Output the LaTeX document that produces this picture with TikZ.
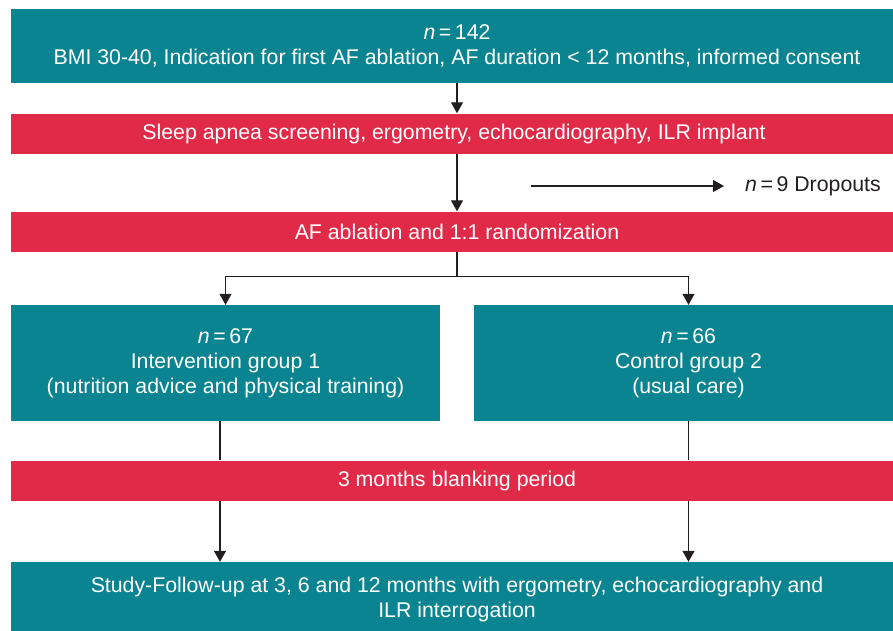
\documentclass[tikz,border=0pt]{standalone}
\usepackage{fontspec}
\setmainfont{Liberation Sans}
\usetikzlibrary{arrows.meta,positioning}
\definecolor{studyteal}{HTML}{0B8491}
\definecolor{stepred}{HTML}{E12A47}
\definecolor{ink}{HTML}{231F20}
\tikzset{
  box/.style={
    rectangle,
    draw=none,
    align=center,
    text=white,
    inner sep=0pt,
    minimum width=892pt
  },
  tealbox/.style={box, fill=studyteal, minimum height=74pt},
  redbox/.style={box, fill=stepred, minimum height=40pt},
  groupbox/.style={box, fill=studyteal, minimum width=429pt, minimum height=116pt},
  flow/.style={
    -{Triangle[length=11pt,width=12pt]},
    draw=ink,
    line width=1.2pt
  },
  link/.style={
    draw=ink,
    line width=1.2pt
  }
}
\newcommand{\nn}{\textit{n}\,=\,}

\begin{document}
\begin{tikzpicture}[
  x=1pt, y=-1pt,
  font=\fontsize{21.3}{25}\selectfont
]
\clip (0,0) rectangle (893,630);

% Screening and baseline steps.
\node[tealbox] (cohort) at (457,46) {
  \nn142\\
  BMI 30-40, Indication for first AF ablation, AF duration < 12 months, informed consent
};
\node[redbox] (screen) at (457,133.5) {
  Sleep apnea screening, ergometry, echocardiography, ILR implant
};
\node[redbox] (rand) at (457,231.5) {AF ablation and 1:1 randomization};

% Dropouts aside.
\node[anchor=west, inner sep=0pt, text=ink] (drop) at (745,186) {\nn9 Dropouts};
\coordinate (dropstart) at (531,186);

% Randomized groups.
\node[groupbox] (grpint) at (225.5,363) {
  \nn67\\
  Intervention group 1\\
  (nutrition advice and physical training)
};
\node[groupbox] (grpctl) at (688.5,363) {
  \nn66\\
  Control group 2\\
  (usual care)
};

% Blanking and follow-up.
\node[redbox] (blank) at (457,480.5) {3 months blanking period};
\node[tealbox] (follow) at (457,599) {
  Study-Follow-up at 3, 6 and 12 months with ergometry, echocardiography and\\
  ILR interrogation
};
\coordinate (lanea) at (220,0);

% Arrows.
\draw[flow] (cohort) -- (screen);
\draw[flow] (screen) -- (rand);
\draw[flow] (dropstart) -- ([xshift=-21pt]drop.west);
\draw[flow] (rand.south) -- ++(0,25) -| (grpint.north);
\draw[flow] (rand.south) -- ++(0,25) -| (grpctl.north);
\draw[link] (lanea |- grpint.south) -- (lanea |- blank.north);
\draw[link] (grpctl.south) -- (grpctl.south |- blank.north);
\draw[flow] (lanea |- blank.south) -- (lanea |- follow.north);
\draw[flow] (grpctl.south |- blank.south) -- (grpctl.south |- follow.north);

\end{tikzpicture}
\end{document}
